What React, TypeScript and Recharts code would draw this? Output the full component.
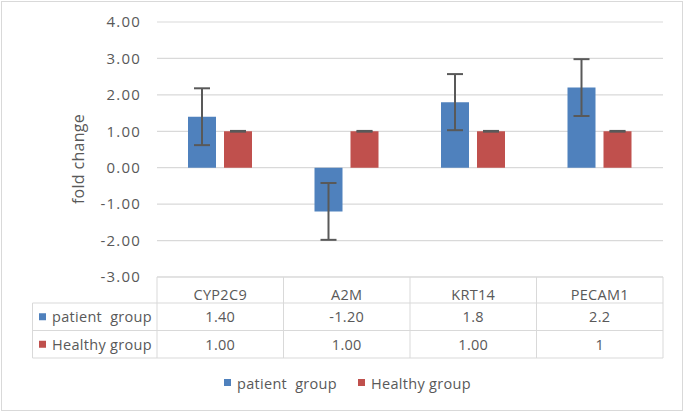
import { BarChart, Bar, XAxis, YAxis, CartesianGrid, ErrorBar, Customized } from 'recharts';

const genes = ['CYP2C9', 'A2M', 'KRT14', 'PECAM1'];
const patientValues = [1.4, -1.2, 1.8, 2.2];
const patientErrors = [0.78, 0.78, 0.77, 0.78];
const healthyValues = [1.0, 1.0, 1.0, 1.0];
// near-zero spread, only the cap is visible in the source
const healthyErrors = [0.01, 0.01, 0.01, 0.01];
const patientLabels = ['1.40', '-1.20', '1.8', '2.2'];
const healthyLabels = ['1.00', '1.00', '1.00', '1'];
const yTicks = [-3, -2, -1, 0, 1, 2, 3, 4];

const series = [
  { key: 'patient', name: 'patient\u00a0 group', color: '#4F81BD', labels: patientLabels },
  { key: 'healthy', name: 'Healthy group', color: '#C0504D', labels: healthyLabels },
];

const data = genes.map((g, i) => ({
  name: g,
  patient: patientValues[i],
  patientErr: patientErrors[i],
  healthy: healthyValues[i],
  healthyErr: healthyErrors[i],
}));

const W = 685;
const H = 412;
const PLOT_LEFT = 157;
const PLOT_RIGHT = 663;
const PLOT_TOP = 22;
const PLOT_BOTTOM = 277;
const TABLE_LEFT = 32.5;
const ROWS = [277, 303, 330.5, 358];
const FONT = '"Open Sans", sans-serif';
const GRID = '#d9d9d9';
const TEXT = '#595959';

const TableLayer = () => {
  const colW = (PLOT_RIGHT - PLOT_LEFT) / genes.length;
  return (
    <g fontFamily={FONT} fontSize={14.5} letterSpacing={0.3} fill={TEXT}>
      {/* row lines */}
      {ROWS.slice(1).map((y) => (
        <line key={y} x1={TABLE_LEFT} x2={PLOT_RIGHT} y1={y} y2={y} stroke={GRID} />
      ))}
      <line x1={TABLE_LEFT} x2={TABLE_LEFT} y1={ROWS[1]} y2={ROWS[3]} stroke={GRID} />
      {genes.map((g, i) => (
        <line key={g} x1={PLOT_LEFT + i * colW} x2={PLOT_LEFT + i * colW} y1={ROWS[0]} y2={ROWS[3]} stroke={GRID} />
      ))}
      <line x1={PLOT_RIGHT} x2={PLOT_RIGHT} y1={ROWS[0]} y2={ROWS[3]} stroke={GRID} />
      {series.map((s, r) => {
        const cy = (ROWS[r + 1] + ROWS[r + 2]) / 2;
        return (
          <g key={s.key}>
            <rect x={39} y={cy - 3.5} width={7} height={7} fill={s.color} />
            <text x={52} y={cy} dominantBaseline="central" fill={TEXT}>{s.name}</text>
            {s.labels.map((l, i) => (
              <text key={i} x={PLOT_LEFT + (i + 0.5) * colW} y={cy} textAnchor="middle" dominantBaseline="central" fill={TEXT}>
                {l}
              </text>
            ))}
          </g>
        );
      })}
      {/* legend */}
      <g>
        <rect x={224} y={379} width={7} height={7} fill={series[0].color} />
        <text x={237} y={383} dominantBaseline="central" fill={TEXT}>{series[0].name}</text>
        <rect x={358} y={379} width={7} height={7} fill={series[1].color} />
        <text x={371} y={383} dominantBaseline="central" fill={TEXT}>{series[1].name}</text>
      </g>
      <text x={78} y={159} transform="rotate(-90 78 159)" textAnchor="middle" dominantBaseline="central" fontSize={16} fill={TEXT}>
        fold change
      </text>
    </g>
  );
};

export default function App() {
  return (
    <div style={{ position: 'absolute', left: 0, top: 0, width: W, height: H, background: '#fff' }}>
      <div style={{ position: 'absolute', left: 1, top: 1, width: W - 5, height: H - 4, border: '1px solid #d9d9d9' }} />
      <BarChart
        width={W}
        height={H}
        data={data}
        margin={{ top: PLOT_TOP, right: W - PLOT_RIGHT, bottom: H - PLOT_BOTTOM - 26, left: 0 }}
        barSize={28}
        barGap={8}
      >
        <CartesianGrid vertical={false} stroke={GRID} strokeWidth={1.2} />
        <XAxis
          dataKey="name"
          height={26}
          tickLine={false}
          axisLine={{ stroke: GRID }}
          tickMargin={7}
          tick={{ fill: TEXT, fontSize: 14.5, fontFamily: FONT, letterSpacing: 0.3 }}
        />
        <YAxis
          width={PLOT_LEFT}
          domain={[-3, 4]}
          ticks={yTicks}
          interval={0}
          tickFormatter={(v: number) => v.toFixed(2)}
          tickLine={false}
          axisLine={false}
          tickSize={0}
          tickMargin={16}
          tick={{ fill: TEXT, fontSize: 15, fontFamily: FONT, letterSpacing: 1.2 }}
        />
        <Bar dataKey="patient" fill={series[0].color} isAnimationActive={false}>
          <ErrorBar dataKey="patientErr" width={8} stroke="#595959" strokeWidth={2} isAnimationActive={false} />
        </Bar>
        <Bar dataKey="healthy" fill={series[1].color} isAnimationActive={false}>
          <ErrorBar dataKey="healthyErr" width={8} stroke="#595959" strokeWidth={2} isAnimationActive={false} />
        </Bar>
        <Customized component={TableLayer} />
      </BarChart>
    </div>
  );
}
